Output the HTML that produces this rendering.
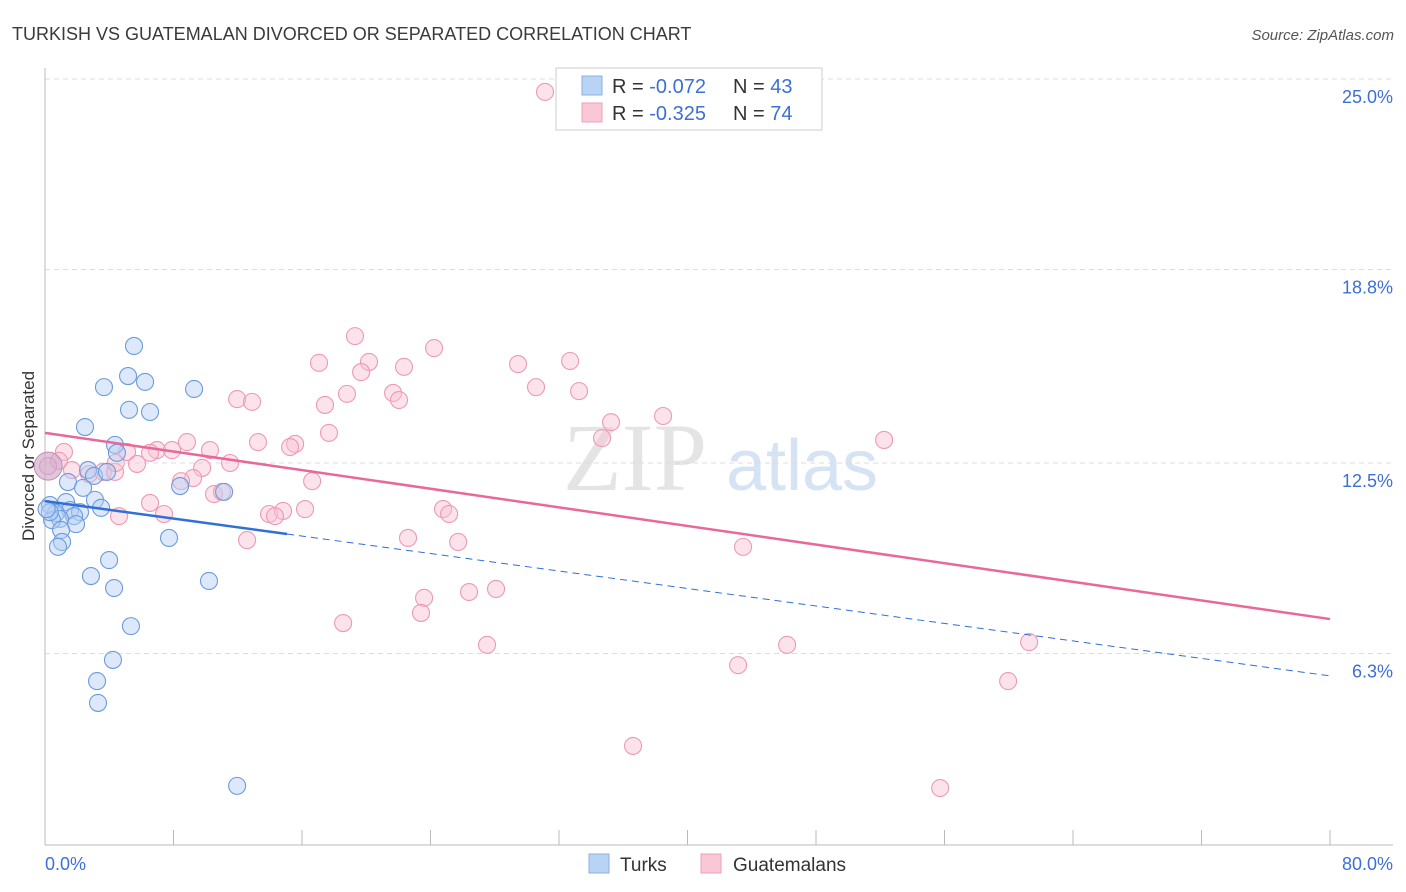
<!DOCTYPE html>
<html><head><meta charset="utf-8"><style>
body{margin:0;background:#fff;font-family:"Liberation Sans",sans-serif;}
svg{display:block}
</style></head><body>
<svg width="1406" height="892" xmlns="http://www.w3.org/2000/svg">
<text x="12" y="40" font-size="18" fill="#3a3a3a">TURKISH VS GUATEMALAN DIVORCED OR SEPARATED CORRELATION CHART</text>
<text x="1394" y="40" font-size="15" fill="#555" font-style="italic" text-anchor="end">Source: ZipAtlas.com</text>
<g>
<text x="635" y="490" font-size="96" font-family="Liberation Serif,serif" fill="#e4e4e4" text-anchor="middle">ZIP</text>
<text x="802" y="490" font-size="72" fill="#d5e3f4" text-anchor="middle">atlas</text>
</g>
<g id="grid"></g>
<g id="axes"></g>
<g id="marks"></g>
<text transform="translate(34,456) rotate(-90)" font-size="17" fill="#333" text-anchor="middle">Divorced or Separated</text>
<g>
<rect x="556" y="68" width="266" height="62" fill="#fff" stroke="#ccc"/>
<rect x="582" y="76" width="20" height="19" fill="#b9d3f5" stroke="#8ab0e6"/>
<rect x="582" y="103" width="20" height="19" fill="#f9c7d6" stroke="#eea1b8"/>
<text x="612" y="93" font-size="20" fill="#333">R = <tspan fill="#3d6fd6">-0.072</tspan><tspan x="733">N = </tspan><tspan fill="#3d6fd6">43</tspan></text>
<text x="612" y="120" font-size="20" fill="#333">R = <tspan fill="#3d6fd6">-0.325</tspan><tspan x="733">N = </tspan><tspan fill="#3d6fd6">74</tspan></text>
</g>
<g>
<rect x="589" y="854" width="20" height="19" fill="#b9d3f5" stroke="#8ab0e6"/>
<text x="620" y="871" font-size="19" fill="#333">Turks</text>
<rect x="701" y="854" width="20" height="19" fill="#f9c7d6" stroke="#eea1b8"/>
<text x="733" y="871" font-size="19" fill="#333">Guatemalans</text>
</g>
</svg>
<script>
const yTicks=[25.0,18.8,12.5,6.3];
const yTickLabels=["25.0%","18.8%","12.5%","6.3%"];
const xTickLabels=["0.0%","80.0%"];
const turksX=[5.54,5.17,6.23,3.67,9.28,5.23,6.54,2.49,4.36,4.48,8.41,11.15,2.68,3.05,1.43,2.37,3.86,3.11,1.31,0.31,1.56,0.68,2.18,1.81,3.49,0.93,0.44,1.93,1.00,1.06,0.81,7.72,3.99,2.86,10.21,4.30,5.35,4.23,3.24,3.30,11.96,0.3,0.1];
const turksY=[16.31,15.33,15.14,14.97,14.91,14.23,14.16,13.67,13.09,12.83,11.75,11.56,12.27,12.08,11.88,11.69,12.21,11.30,11.23,11.13,10.97,10.87,10.90,10.77,11.04,10.68,10.64,10.51,10.32,9.93,9.77,10.06,9.34,8.82,8.66,8.43,7.19,6.09,5.40,4.69,1.99,10.9,11.0];
const guatX=[31.13,19.30,24.22,32.69,17.06,20.17,29.45,22.35,19.68,30.57,33.25,18.80,11.96,12.89,21.67,22.04,17.43,38.48,35.24,17.68,52.24,34.68,13.26,15.57,15.26,8.84,6.97,10.27,7.91,5.11,1.18,6.54,0.87,11.52,5.73,9.78,1.68,3.61,4.36,2.74,9.22,8.47,16.63,10.52,11.02,6.54,24.78,7.41,4.61,25.16,13.95,14.82,14.32,16.19,22.60,25.72,12.58,43.46,28.08,26.40,23.60,23.41,18.56,27.52,46.20,61.27,43.15,59.96,36.61,55.73,0.19,4.4];
const guatY=[24.58,16.63,16.24,15.82,15.76,15.79,15.72,15.63,15.46,14.97,14.84,14.75,14.58,14.49,14.78,14.55,14.39,14.03,13.83,13.48,13.25,13.31,13.18,13.12,13.02,13.18,12.92,12.92,12.92,12.86,12.86,12.83,12.57,12.50,12.47,12.34,12.27,12.21,12.21,12.14,12.01,11.91,11.91,11.49,11.56,11.20,11.00,10.84,10.77,10.84,10.84,10.94,10.77,11.00,10.06,9.93,9.99,9.77,8.40,8.30,8.11,7.62,7.29,6.58,6.58,6.67,5.92,5.40,3.29,1.92,12.40,12.5];
const turksTrend=[11.26,5.57]; const turksSolidEnd=15.07;
const guatTrend=[13.48,7.42];
const X0=45,X1=1330,Y0=847,PY=30.72;
const sx=v=>X0+v/80*(X1-X0), sy=v=>Y0-v*PY;
const NS="http://www.w3.org/2000/svg";
function mk(tag,attrs,parent){const e=document.createElementNS(NS,tag);for(const k in attrs)e.setAttribute(k,attrs[k]);document.getElementById(parent).appendChild(e);return e;}
yTicks.forEach((t,i)=>{
 const g=mk('line',{x1:45,x2:1393,y1:sy(t),y2:sy(t),stroke:'#ddd','stroke-dasharray':'5,4'},'grid');
 
 
 const l=mk('text',{x:1393,y:sy(t)+24,'font-size':18,fill:'#3d6fd6','text-anchor':'end'},'grid');
 l.textContent=yTickLabels[i];
 
 
});
let a=mk('line',{x1:45,x2:45,y1:68,y2:845,stroke:'#bbb'},'axes');


a=mk('line',{x1:45,x2:1393,y1:845,y2:845,stroke:'#bbb'},'axes');


for(let i=1;i<=10;i++){const t=mk('line',{x1:sx(i*8),x2:sx(i*8),y1:830,y2:845,stroke:'#bbb'},'axes');
 
 }
[[45,'start',0],[1393,'end',1]].forEach(([x,an,i])=>{const t=mk('text',{x:x,y:870,'font-size':18,fill:'#3d6fd6','text-anchor':an},'axes');t.textContent=xTickLabels[i];
 
 });
function pts(xs,ys,fill,stroke,name){xs.forEach((x,i)=>{const c=mk('circle',{cx:sx(x),cy:sy(ys[i]),r:8.5,fill:fill,'fill-opacity':0.45,stroke:stroke,'stroke-width':1.1},'marks');
 
 });}
pts(guatX,guatY,'#f9c0d2','#ec9ab4','guatemalan-point');
pts(turksX,turksY,'#b3cff3','#6b9bdd','turks-point');
let big=mk('circle',{cx:sx(0.2),cy:sy(12.4),r:14,fill:'#c9a3c8','fill-opacity':0.6,stroke:'#c78ab0'},'marks');


const bt=x=>turksTrend[0]+(turksTrend[1]-turksTrend[0])*x/80;
let l=mk('line',{x1:sx(0),y1:sy(bt(0)),x2:sx(turksSolidEnd),y2:sy(bt(turksSolidEnd)),stroke:'#2f6fd6','stroke-width':2.5},'marks');


l=mk('line',{x1:sx(turksSolidEnd),y1:sy(bt(turksSolidEnd)),x2:sx(80),y2:sy(bt(80)),stroke:'#2f6fd6','stroke-width':1,'stroke-dasharray':'7,5'},'marks');


l=mk('line',{x1:sx(0),y1:sy(guatTrend[0]),x2:sx(80),y2:sy(guatTrend[1]),stroke:'#e8689a','stroke-width':2.5},'marks');


</script>
</body></html>
